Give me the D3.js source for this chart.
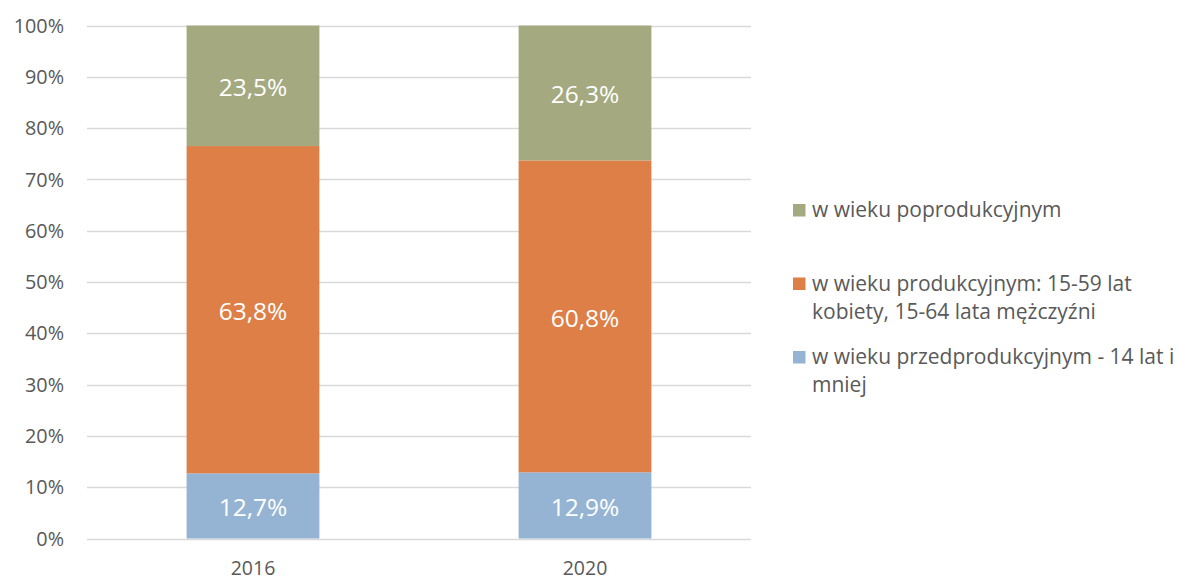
<!DOCTYPE html>
<html>
<head>
<meta charset="utf-8">
<script src="https://cdn.jsdelivr.net/npm/d3@7.9.0/dist/d3.min.js"></script>
<style>
  body { margin: 0; background: #fff; }
  svg text { font-family: "Open Sans", sans-serif; }
</style>
</head>
<body>
<svg id="chart" width="1178" height="578"></svg>
<script>
const years = ['2016', '2020'];
const seriesNames = [
  'w wieku przedprodukcyjnym - 14 lat i mniej',
  'w wieku produkcyjnym: 15-59 lat kobiety, 15-64 lata mężczyźni',
  'w wieku poprodukcyjnym',
];
const preProd = [12.7, 12.9];
const prod = [63.8, 60.8];
const postProd = [23.5, 26.3];
const yTicks = [0, 10, 20, 30, 40, 50, 60, 70, 80, 90, 100];

// legend lines as wrapped in the picture, top to bottom
const legendLines = [
  ['w wieku poprodukcyjnym'],
  ['w wieku produkcyjnym: 15-59 lat', 'kobiety, 15-64 lata mężczyźni'],
  ['w wieku przedprodukcyjnym - 14 lat i', 'mniej'],
];

const colors = ['#95b4d3', '#dd7f47', '#a4a97f'];

const svg = d3.select('#chart');

const x = d3.scaleBand().domain(years).range([87, 751])
  .paddingInner(0.6).paddingOuter(0.3);
const y = d3.scaleLinear().domain([0, 100]).range([538.5, 25.5]);

// gridlines
svg.append('g')
  .selectAll('line')
  .data(yTicks)
  .join('line')
  .attr('x1', 87).attr('x2', 751)
  .attr('y1', (d) => Math.round(y(d)) + 0.5)
  .attr('y2', (d) => Math.round(y(d)) + 0.5)
  .attr('stroke', '#d9d9d9')
  .attr('stroke-width', 1.3);

// y labels
svg.append('g')
  .selectAll('text')
  .data(yTicks)
  .join('text')
  .attr('x', 64)
  .attr('y', (d) => y(d))
  .attr('dy', '0.36em')
  .attr('text-anchor', 'end')
  .attr('font-size', 19.8)
  .attr('fill', '#595959')
  .text((d) => d + '%');

// x labels
svg.append('g')
  .selectAll('text')
  .data(years)
  .join('text')
  .attr('x', (d) => x(d) + x.bandwidth() / 2)
  .attr('y', 575)
  .attr('text-anchor', 'middle')
  .attr('font-size', 19.5)
  .attr('fill', '#595959')
  .text((d) => d);

const table = years.map((yr, i) => ({
  year: yr,
  s0: preProd[i],
  s1: prod[i],
  s2: postProd[i],
}));
const stack = d3.stack().keys(['s0', 's1', 's2']);
const layers = stack(table);

const fmt = (v) => v.toFixed(1).replace('.', ',') + '%';

layers.forEach((layer, li) => {
  const g = svg.append('g');
  g.selectAll('rect')
    .data(layer)
    .join('rect')
    .attr('x', (d) => x(d.data.year))
    .attr('width', x.bandwidth())
    .attr('y', (d) => y(d[1]))
    .attr('height', (d) => y(d[0]) - y(d[1]))
    .attr('fill', colors[li]);
  g.selectAll('text')
    .data(layer)
    .join('text')
    .attr('x', (d) => x(d.data.year) + x.bandwidth() / 2)
    .attr('y', (d) => y((d[0] + d[1]) / 2) + 1.5)
    .attr('dy', '0.36em')
    .attr('text-anchor', 'middle')
    .attr('font-size', 24.5)
    .attr('fill', '#ffffff')
    .text((d) => fmt(d[1] - d[0]));
});

// legend
const legendColors = [colors[2], colors[1], colors[0]];
const legendBase = [217, 290.5, 364];
const legend = svg.append('g');
legendLines.forEach((lines, i) => {
  legend.append('rect')
    .attr('x', 793)
    .attr('y', legendBase[i] - 13)
    .attr('width', 12.5)
    .attr('height', 12.5)
    .attr('fill', legendColors[i]);
  lines.forEach((ln, j) => {
    legend.append('text')
      .attr('x', 812)
      .attr('y', legendBase[i] + j * 28.3)
      .attr('font-size', 21)
      .attr('fill', '#595959')
      .text(ln);
  });
});
</script>
</body>
</html>
